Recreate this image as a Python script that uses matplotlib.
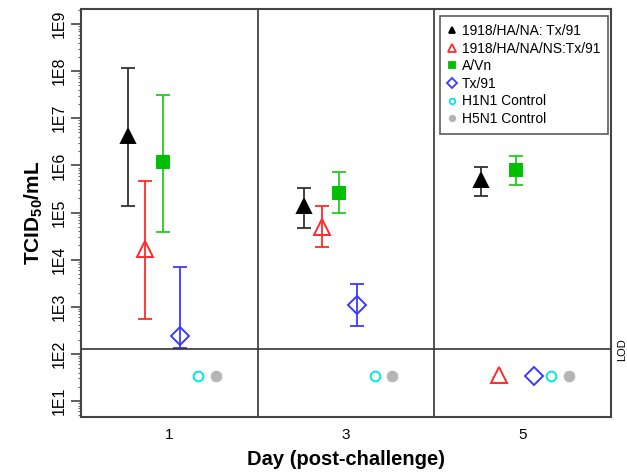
import numpy as np
import matplotlib
matplotlib.use("Agg")
import matplotlib.pyplot as plt
from matplotlib.ticker import FixedLocator, NullFormatter

plt.rcParams["font.family"] = ["Liberation Sans", "DejaVu Sans"]
plt.rcParams["mathtext.fontset"] = "custom"
plt.rcParams["mathtext.rm"] = "Liberation Sans"
plt.rcParams["mathtext.bf"] = "Liberation Sans:bold"

# ---- data (log10 TCID50/mL) ----
days = [1, 3, 5]
series_names = ["1918/HA/NA: Tx/91", "1918/HA/NA/NS:Tx/91", "A/Vn", "Tx/91",
                "H1N1 Control", "H5N1 Control"]
# mean, lower, upper per day (log10); nan = no error bar
black_mean = [6.63, 5.14, 5.69]
black_low = [5.13, 4.67, 5.36]
black_up = [8.06, 5.53, 5.97]
red_mean = [4.22, 4.70, 1.55]
red_low = [2.73, 4.26, np.nan]
red_up = [5.66, 5.13, np.nan]
green_mean = [6.07, 5.42, 5.90]
green_low = [4.59, 4.99, 5.59]
green_up = [7.50, 5.85, 6.20]
blue_mean = [2.37, 3.04, 1.53]
blue_low = [2.12, 2.60, np.nan]
blue_up = [3.84, 3.48, np.nan]
cyan_mean = [1.53, 1.53, 1.53]
gray_mean = [1.53, 1.53, 1.53]
lod_log = 2.10
ytick_labels = ["1E1", "1E2", "1E3", "1E4", "1E5", "1E6", "1E7", "1E8", "1E9"]

fig = plt.figure(figsize=(6.27, 4.73), dpi=100)
ax = fig.add_axes([0.129, 0.1184, 0.8455, 0.8626])
ax.set_yscale("log")
ax.set_xlim(0, 6)
ax.set_ylim(10**0.66, 10**9.32)

offsets = [-0.47, -0.27, -0.075, 0.125, 0.325, 0.525]
styles = [
    dict(color="black", ecolor="#333333", marker="^", ms=10, mfc="black", mec="black"),
    dict(color="#ff2a2a", ecolor="#ff2a2a", marker="^", ms=12, mfc="none", mec="#ff2a2a"),
    dict(color="#00c000", ecolor="#22cc22", marker="s", ms=8, mfc="#00c000", mec="#00c000"),
    dict(color="#3a3aff", ecolor="#3a3aff", marker="D", ms=9, mfc="none", mec="#3a3aff"),
    dict(color="#00e5ee", ecolor="#00e5ee", marker="o", ms=7, mfc="none", mec="#00e5ee"),
    dict(color="#b5b5b5", ecolor="#b5b5b5", marker="o", ms=7, mfc="#b5b5b5", mec="#b5b5b5"),
]
nan3 = [np.nan] * 3
all_series = [
    (black_mean, black_low, black_up),
    (red_mean, red_low, red_up),
    (green_mean, green_low, green_up),
    (blue_mean, blue_low, blue_up),
    (cyan_mean, nan3, nan3),
    (gray_mean, nan3, nan3),
]

for i, ((m, lo, up), st) in enumerate(zip(all_series, styles)):
    x = np.array(days, dtype=float) + offsets[i]
    y = 10 ** np.array(m)
    lo_v = 10 ** np.array(lo)
    up_v = 10 ** np.array(up)
    yerr = np.vstack([np.where(np.isnan(lo_v), 0, y - np.nan_to_num(lo_v, nan=0)),
                      np.where(np.isnan(up_v), 0, np.nan_to_num(up_v, nan=0) - y)])
    has = ~np.isnan(np.array(lo))
    if has.any():
        ax.errorbar(x[has], y[has], yerr=yerr[:, has], fmt="none", ecolor=st["ecolor"],
                    elinewidth=1.3, capsize=5, capthick=1.3)
    ax.plot(x, y, linestyle="none", marker=st["marker"], ms=st["ms"],
            mfc=st["mfc"], mec=st["mec"], mew=1.4)

# legend handles
handles = []
leg_ms = [5, 6, 4.5, 5, 4, 4]
for st, name, lm in zip(styles, series_names, leg_ms):
    h, = ax.plot([], [], linestyle="none", marker=st["marker"], ms=lm,
                 mfc=st["mfc"], mec=st["mec"], mew=1.3, label=name)
    handles.append(h)
leg = ax.legend(handles=handles, loc="upper right", bbox_to_anchor=(0.9945, 0.982),
                fontsize=10, frameon=True, fancybox=False, handlelength=0.6,
                handletextpad=0.45, labelspacing=0.26, borderpad=0.55, borderaxespad=0)
leg.get_frame().set_edgecolor("#333333")
leg.get_frame().set_linewidth(1.2)

# dividers and LOD
for xv in [2, 4]:
    ax.axvline(xv, color="#333333", lw=1.2)
ax.axhline(10 ** lod_log, color="#333333", lw=1.2)
ax.text(1.012, 10 ** lod_log, "LOD", transform=ax.get_yaxis_transform(),
        rotation=90, va="center", ha="left", fontsize=8)

# axes styling
for sp in ax.spines.values():
    sp.set_color("#444444")
    sp.set_linewidth(1.5)

ax.set_xticks(days)
ax.set_xticklabels([str(d) for d in days], fontsize=11)
ax.tick_params(axis="x", length=0, pad=8)
yt = [10.0 ** k for k in range(1, 10)]
ax.set_yticks(yt)
ax.set_yticklabels(ytick_labels, rotation=90, va="center", fontsize=11.5)
minors = [j * 10.0 ** k for k in range(0, 10) for j in range(2, 10)]
ax.yaxis.set_minor_locator(FixedLocator(minors))
ax.yaxis.set_minor_formatter(NullFormatter())
ax.tick_params(axis="y", which="major", length=7, width=1.2, color="#444444", pad=3)
ax.tick_params(axis="y", which="minor", length=2.5, width=0.8, color="#666666")

ax.set_xlabel("Day (post-challenge)", fontsize=14.5, fontweight="bold", labelpad=6)
ax.set_ylabel(r"$\mathbf{TCID_{50}/mL}$", fontsize=15, labelpad=5)

fig.savefig("out.png", dpi=100)
